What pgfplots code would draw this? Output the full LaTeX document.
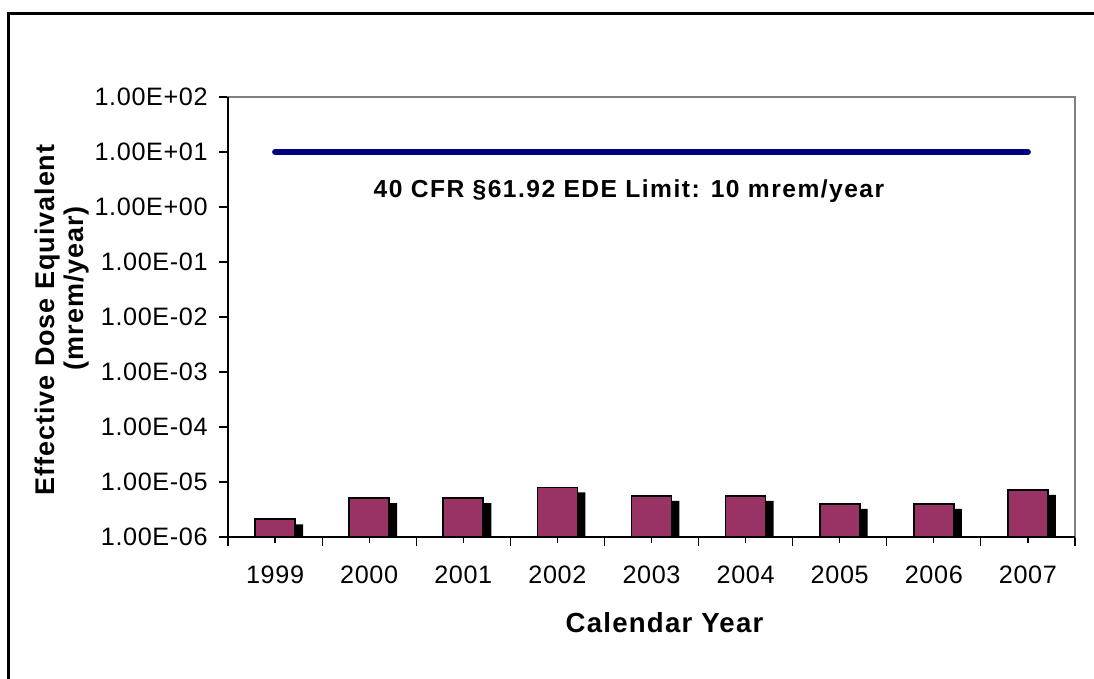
\documentclass[border=0pt]{standalone}
\usepackage{pgfplots}
\pgfplotsset{compat=1.18}
\usepackage{fontspec}
\setmainfont{Liberation Sans}
\definecolor{plum}{RGB}{153,51,102}
\definecolor{navyline}{RGB}{0,0,128}
\begin{document}
\begin{tikzpicture}
\path[use as bounding box] (0,0) rectangle (547pt,339.5pt);
\begin{scope}
\clip (0,0) rectangle (547pt,339.5pt);
\draw[line width=1.5pt] (4.25pt,-10pt) |- (600pt,332.75pt);
\end{scope}
\begin{axis}[
  name=ax,
  at={(114pt,71pt)}, anchor=south west,
  scale only axis, width=423.5pt, height=220pt,
  ymode=log, log origin=infty,
  ymin=1e-6, ymax=1e2,
  xmin=-0.5, xmax=8.5,
  ytick={1e-6,1e-5,1e-4,1e-3,1e-2,1e-1,1,10,100},
  yticklabels={1.00E-06,1.00E-05,1.00E-04,1.00E-03,1.00E-02,1.00E-01,1.00E+00,1.00E+01,1.00E+02},
  yminorticks=false,
  xtick={-0.5,0.5,1.5,2.5,3.5,4.5,5.5,6.5,7.5,8.5},
  xticklabels={},
  extra x ticks={0,1,2,3,4,5,6,7,8},
  extra x tick labels={1999,2000,2001,2002,2003,2004,2005,2006,2007},
  extra x tick style={major tick length=3pt},
  tick align=outside, major tick length=4.5pt,
  xtick pos=bottom, ytick pos=left,
  tick style={black, line width=0.6pt},
  axis line style={draw=gray, line width=0.6pt},
  /pgf/number format/assume math mode=true,
  tick label style={font=\fontsize{12.6}{14}\selectfont\addfontfeatures{LetterSpace=2.5}},
  yticklabel style={inner sep=0pt, xshift=-5.5pt},
  xticklabel style={inner sep=0pt, yshift=-11.5pt},
  clip=true,
]
\addplot[ybar, bar width=20pt, bar shift=4pt, fill=black, draw=none, yshift=-2.5pt]
  coordinates {(0,2.1e-6) (1,5.1e-6) (2,5.1e-6) (3,8.0e-6) (4,5.6e-6) (5,5.6e-6) (6,4.0e-6) (7,4.0e-6) (8,7.2e-6)};
\addplot[ybar, bar width=20pt, bar shift=0pt, fill=plum, draw=black, line width=0.8pt]
  coordinates {(0,2.1e-6) (1,5.1e-6) (2,5.1e-6) (3,8.0e-6) (4,5.6e-6) (5,5.6e-6) (6,4.0e-6) (7,4.0e-6) (8,7.2e-6)};
\addplot[navyline, line width=3pt, line cap=round, mark=none]
  coordinates {(0,10) (1,10) (2,10) (3,10) (4,10) (5,10) (6,10) (7,10) (8,10)};
\end{axis}
\draw[black, line width=0.75pt] (ax.north west) -- (ax.south west) -- (ax.south east);
\node[font=\bfseries\fontsize{12.3}{14}\selectfont\addfontfeatures{LetterSpace=6}] at (314.5pt,244pt) {40 CFR §61.92 EDE Limit: 10 mrem/year};
\node[font=\bfseries\fontsize{13.8}{15}\selectfont\addfontfeatures{LetterSpace=4.5}] at (332.25pt,28pt) {Calendar Year};
\node[rotate=90, font=\bfseries\fontsize{13.5}{15}\selectfont\addfontfeatures{LetterSpace=3.5}] at (24pt,179.5pt) {Effective Dose Equivalent};
\node[rotate=90, font=\bfseries\fontsize{13.5}{15}\selectfont\addfontfeatures{LetterSpace=3.5}] at (38.5pt,195.5pt) {(mrem/year)};
\end{tikzpicture}
\end{document}
